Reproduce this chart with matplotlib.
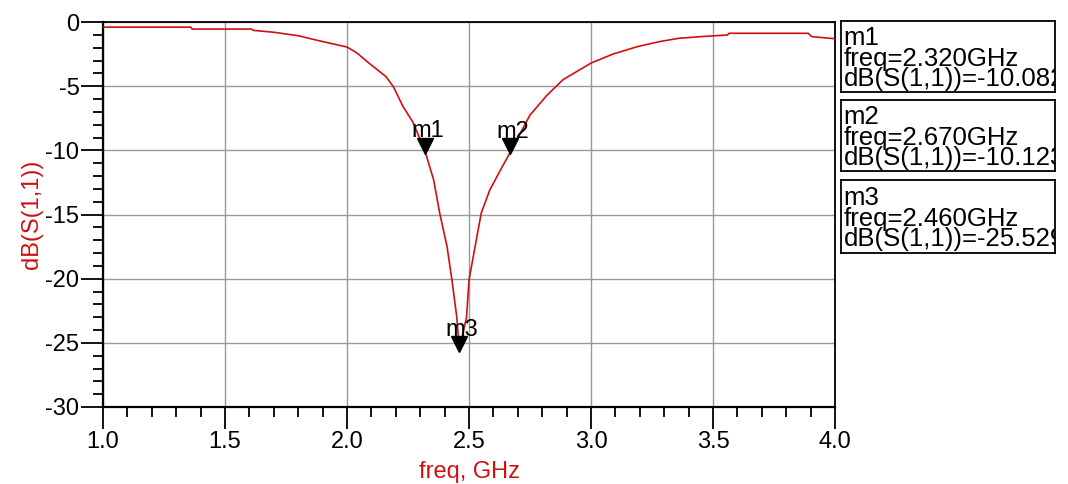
import matplotlib.pyplot as plt
from matplotlib.ticker import MultipleLocator

plt.rcParams['font.family'] = ['Liberation Sans', 'DejaVu Sans']
plt.rcParams['axes.unicode_minus'] = False

# ~~~~~~~~~~~~~~~~~~~~~~~~~~~~~ Données lues ~~~~~~~~~~~~~~~~~~~~~~~~~~~~~ #
freq = [1.00, 1.36, 1.365, 1.61, 1.615, 1.70, 1.80, 1.89, 2.00, 2.04, 2.09,
        2.16, 2.19, 2.23, 2.27, 2.32, 2.355, 2.38, 2.41, 2.43, 2.45, 2.46,
        2.49, 2.50, 2.525, 2.55, 2.585, 2.63, 2.67, 2.75, 2.82, 2.885, 3.00,
        3.09, 3.19, 3.28, 3.36, 3.45, 3.56, 3.565, 3.89, 3.905, 3.98, 4.00]
s11 = [-0.40, -0.40, -0.55, -0.55, -0.65, -0.80, -1.07, -1.48, -1.95, -2.4,
       -3.2, -4.26, -5.04, -6.6, -7.8, -10.08, -12.3, -14.9, -17.5, -20.1,
       -23.0, -25.53, -23.0, -20.1, -17.5, -14.9, -13.1, -11.5, -10.12,
       -7.25, -5.7, -4.5, -3.2, -2.5, -1.92, -1.53, -1.27, -1.14, -1.01,
       -0.88, -0.88, -1.14, -1.27, -1.30]

markers = ['m1', 'm2', 'm3']
marker_freq = [2.320, 2.670, 2.460]
marker_db = [-10.082, -10.123, -25.529]

# ~~~~~~~~~~~~~~~~~~~~~~~~~~~~~~~ Graphique ~~~~~~~~~~~~~~~~~~~~~~~~~~~~~~ #
fig = plt.figure(figsize=(10.68, 4.84), dpi=100)
ax = fig.add_axes([103 / 1068, 1 - 407 / 484, 732 / 1068, 385 / 484])

ax.plot(freq, s11, color='#d01010', lw=1.2, zorder=3)
ax.plot(marker_freq, [d + 0.45 for d in marker_db], 'v', color='black',
        ms=12, zorder=4)
for m, f, d in zip(markers, marker_freq, marker_db):
    ax.text(f + 0.01, d + 0.7, m, fontsize=17, ha='center', va='bottom',
            zorder=5)

ax.set_xlim(1, 4)
ax.set_ylim(-30, 0)
ax.xaxis.set_major_locator(MultipleLocator(0.5))
ax.xaxis.set_minor_locator(MultipleLocator(0.1))
ax.yaxis.set_major_locator(MultipleLocator(5))
ax.yaxis.set_minor_locator(MultipleLocator(1))
ax.xaxis.set_major_formatter(lambda v, p: f"{v:.1f}")
ax.yaxis.set_major_formatter(lambda v, p: f"{int(round(v))}")
ax.grid(True, which='major', color='#999999', lw=1)
ax.tick_params(which='major', length=16, width=1.3, labelsize=17, pad=1,
               direction='out')
ax.tick_params(which='minor', length=7, width=1.3, direction='out')
for sp in ax.spines.values():
    sp.set_linewidth(1.3)
ax.spines['bottom'].set_linewidth(1.6)
ax.spines['left'].set_linewidth(1.6)

ax.set_xlabel('freq, GHz', color='#d01010', fontsize=17, labelpad=6)
ax.set_ylabel('dB(S(1,1))', color='#d01010', fontsize=17, labelpad=2)

# ~~~~~~~~~~~~~~~~~~~~~~~~~~~~~~ Cadres des marqueurs ~~~~~~~~~~~~~~~~~~~~~ #
boites = [(21, 92), (100, 171), (180, 253)]
for (haut, bas), m, f, d in zip(boites, markers, marker_freq, marker_db):
    bx = fig.add_axes([841 / 1068, 1 - bas / 484, 214 / 1068,
                       (bas - haut) / 484])
    bx.set_xticks([])
    bx.set_yticks([])
    for sp in bx.spines.values():
        sp.set_linewidth(1.3)
    texte = f"{m}\nfreq={f:.3f}GHz\ndB(S(1,1))={d:.3f}"
    bx.text(0.012, 0.47, texte, fontsize=18.5, va='center', ha='left',
            linespacing=0.82, transform=bx.transAxes, clip_on=True)

fig.savefig('out.png', dpi=100)
